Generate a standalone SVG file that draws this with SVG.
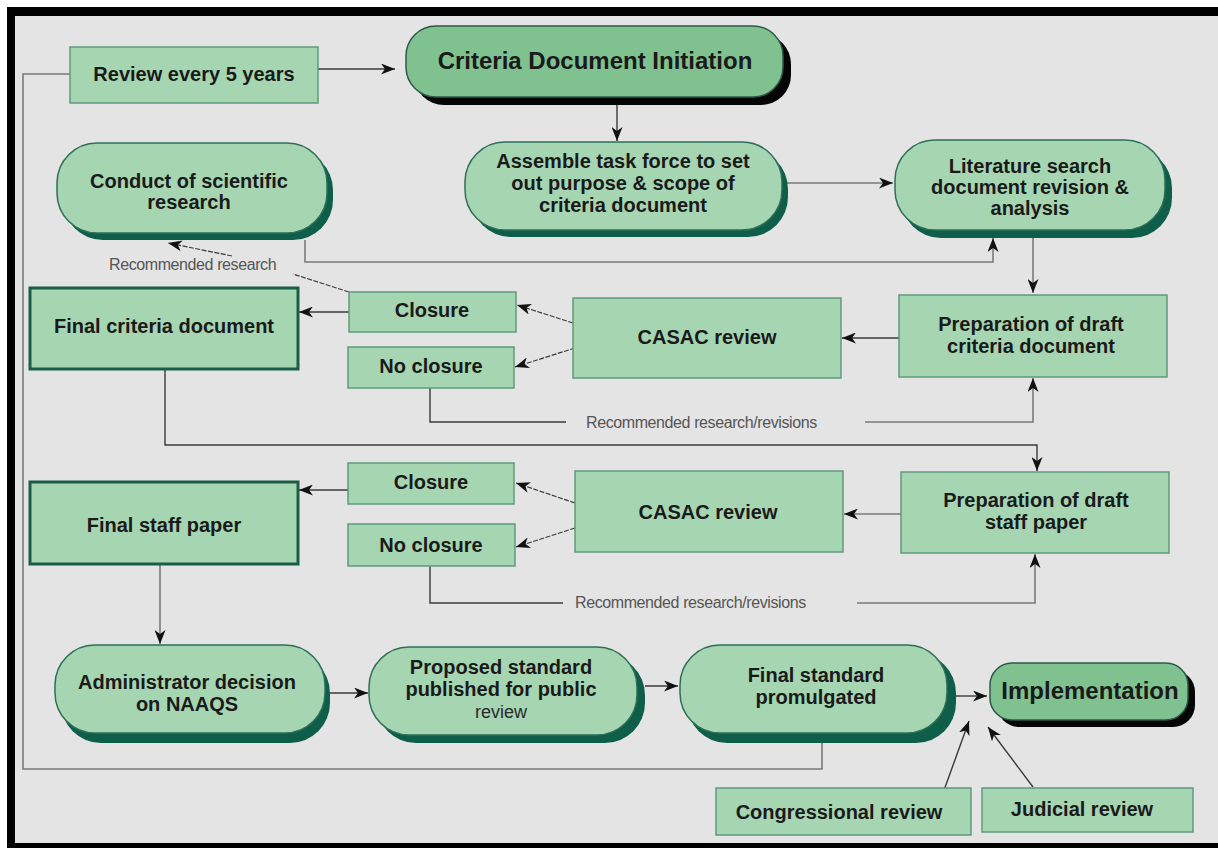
<svg xmlns="http://www.w3.org/2000/svg" width="1218" height="848" viewBox="0 0 1218 848">
<defs>
<marker id="ah" markerUnits="userSpaceOnUse" markerWidth="15" markerHeight="11" refX="14" refY="5.5" orient="auto">
<path d="M0,0 L14,5.5 L0,11 L4,5.5 Z" fill="#111"/>
</marker>
<style>
.t{font-family:"Liberation Sans",Arial,sans-serif;font-weight:bold;font-size:20px;fill:#1a1a1a;text-anchor:middle}
.big{font-size:24px}
.sm{font-family:"Liberation Sans",Arial,sans-serif;font-size:18px;fill:#2a2a2a;text-anchor:middle}
.lbl{font-family:"Liberation Sans",Arial,sans-serif;font-size:16px;fill:#555;letter-spacing:-0.4px}
.pill{fill:#a6d5b2;stroke:#2d6f58;stroke-width:1.5}
.pillsh{fill:#0e5e49}
.dpill{fill:#7fc18f;stroke:#2d5a48;stroke-width:1.5}
.dsh{fill:#050505}
.box{fill:#a6d5b2;stroke:#5f9a7c;stroke-width:1.5}
.fbox{fill:#a6d5b2;stroke:#1b5e48;stroke-width:3}
.ln{fill:none;stroke:#3a3a3a;stroke-width:1.4}
.lg{fill:none;stroke:#7a7a7a;stroke-width:1.6}
.dl{fill:none;stroke:#3a3a3a;stroke-width:1.2;stroke-dasharray:5 1.5}
</style>
</defs>
<rect width="1218" height="848" fill="#ffffff"/>
<rect x="7" y="7" width="1211" height="841" fill="#000"/>
<rect x="15" y="16" width="1203" height="827" fill="#e4e4e4"/>

<g id="connectors">
<path class="ln" d="M318,69 H395" marker-end="url(#ah)"/>
<path class="lg" d="M822,743 V769 H23 V74 H70"/>
<path class="ln" d="M617,104 V141" marker-end="url(#ah)"/>
<path class="lg" d="M787,183 H893" marker-end="url(#ah)"/>
<path class="lg" d="M305,240 V262 H993 V238" marker-end="url(#ah)"/>
<path class="lg" d="M1033,238 V293" marker-end="url(#ah)"/>
<path class="ln" d="M899,338 H842" marker-end="url(#ah)"/>
<path class="dl" d="M573,323 L517,305" marker-end="url(#ah)"/>
<path class="dl" d="M575,348 L515,367" marker-end="url(#ah)"/>
<path class="ln" d="M349,312 H299" marker-end="url(#ah)"/>
<path class="dl" d="M349,292 L293,274"/>
<path class="dl" d="M232,256 L168,243" marker-end="url(#ah)"/>
<path class="ln" d="M430,388 V422 H566"/>
<path class="lg" d="M865,422 H1033 V378" marker-end="url(#ah)"/>
<path class="ln" d="M165,369 V445 H1037 V471" marker-end="url(#ah)"/>
<path class="lg" d="M901,514 H844" marker-end="url(#ah)"/>
<path class="dl" d="M575,503 L516,483" marker-end="url(#ah)"/>
<path class="dl" d="M575,528 L516,547" marker-end="url(#ah)"/>
<path class="ln" d="M349,490 H299" marker-end="url(#ah)"/>
<path class="ln" d="M430,566 V603 H563"/>
<path class="lg" d="M857,603 H1035 V554" marker-end="url(#ah)"/>
<path class="lg" d="M160,564 V644" marker-end="url(#ah)"/>
<path class="ln" d="M330,693 H368" marker-end="url(#ah)"/>
<path class="ln" d="M645,686 H678" marker-end="url(#ah)"/>
<path class="ln" d="M956,696 H987" marker-end="url(#ah)"/>
<path class="ln" d="M943,793 L969,721" marker-end="url(#ah)"/>
<path class="ln" d="M1033,787 L988,727" marker-end="url(#ah)"/>
<text class="lbl" x="109" y="270">Recommended research</text>
<text class="lbl" x="586" y="428">Recommended research/revisions</text>
<text class="lbl" x="575" y="608">Recommended research/revisions</text>
</g>

<g id="review5">
<rect class="box" x="70" y="47" width="248" height="56"/>
<text class="t" x="194" y="81">Review every 5 years</text>
</g>
<g id="initiation">
<rect class="dsh" x="414" y="34" width="377" height="71" rx="30"/>
<rect class="dpill" x="406" y="26" width="377" height="71" rx="30"/>
<text class="t big" x="595" y="69">Criteria Document Initiation</text>
</g>
<g id="assemble">
<rect class="pillsh" x="471" y="149" width="317" height="88" rx="40"/>
<rect class="pill" x="465" y="142" width="317" height="88" rx="40"/>
<text class="t" x="623" y="168">Assemble task force to set</text>
<text class="t" x="623" y="190">out purpose &amp; scope of</text>
<text class="t" x="623" y="212">criteria document</text>
</g>
<g id="literature">
<rect class="pillsh" x="901" y="148" width="271" height="90" rx="40"/>
<rect class="pill" x="895" y="140" width="270" height="90" rx="40"/>
<text class="t" x="1030" y="173">Literature search</text>
<text class="t" x="1030" y="194">document revision &amp;</text>
<text class="t" x="1030" y="215">analysis</text>
</g>
<g id="conduct">
<rect class="pillsh" x="63" y="150" width="270" height="90" rx="40"/>
<rect class="pill" x="57" y="143" width="270" height="90" rx="40"/>
<text class="t" x="189" y="188">Conduct of scientific</text>
<text class="t" x="189" y="209">research</text>
</g>
<g id="prep-criteria">
<rect class="box" x="899" y="295" width="268" height="82"/>
<text class="t" x="1031" y="331">Preparation of draft</text>
<text class="t" x="1031" y="353">criteria document</text>
</g>
<g id="casac1">
<rect class="box" x="573" y="298" width="268" height="80"/>
<text class="t" x="707" y="344">CASAC review</text>
</g>
<g id="closure1">
<rect class="box" x="349" y="292" width="167" height="40"/>
<text class="t" x="432" y="317">Closure</text>
</g>
<g id="noclosure1">
<rect class="box" x="348" y="347" width="166" height="41"/>
<text class="t" x="431" y="373">No closure</text>
</g>
<g id="final-criteria">
<rect class="fbox" x="30" y="288" width="268" height="81"/>
<text class="t" x="164" y="333">Final criteria document</text>
</g>
<g id="prep-staff">
<rect class="box" x="901" y="472" width="268" height="81"/>
<text class="t" x="1036" y="507">Preparation of draft</text>
<text class="t" x="1036" y="529">staff paper</text>
</g>
<g id="casac2">
<rect class="box" x="575" y="471" width="268" height="81"/>
<text class="t" x="708" y="519">CASAC review</text>
</g>
<g id="closure2">
<rect class="box" x="348" y="463" width="166" height="41"/>
<text class="t" x="431" y="489">Closure</text>
</g>
<g id="noclosure2">
<rect class="box" x="348" y="524" width="167" height="42"/>
<text class="t" x="431" y="552">No closure</text>
</g>
<g id="final-staff">
<rect class="fbox" x="30" y="482" width="268" height="82"/>
<text class="t" x="164" y="532">Final staff paper</text>
</g>
<g id="administrator">
<rect class="pillsh" x="61" y="653" width="269" height="90" rx="40"/>
<rect class="pill" x="55" y="645" width="270" height="88" rx="40"/>
<text class="t" x="187" y="689">Administrator decision</text>
<text class="t" x="187" y="711">on NAAQS</text>
</g>
<g id="proposed">
<rect class="pillsh" x="376" y="655" width="269" height="88" rx="40"/>
<rect class="pill" x="369" y="647" width="268" height="88" rx="40"/>
<text class="t" x="501" y="674">Proposed standard</text>
<text class="t" x="501" y="696">published for public</text>
<text class="sm" x="501" y="718">review</text>
</g>
<g id="final-standard">
<rect class="pillsh" x="687" y="653" width="269" height="90" rx="40"/>
<rect class="pill" x="680" y="645" width="267" height="88" rx="40"/>
<text class="t" x="816" y="682">Final standard</text>
<text class="t" x="816" y="704">promulgated</text>
</g>
<g id="implementation">
<rect class="dsh" x="997" y="670" width="198" height="57" rx="22"/>
<rect class="dpill" x="990" y="663" width="198" height="57" rx="22"/>
<text class="t big" x="1090" y="699">Implementation</text>
</g>
<g id="congressional">
<rect class="box" x="716" y="788" width="255" height="47"/>
<text class="t" x="839" y="819">Congressional review</text>
</g>
<g id="judicial">
<rect class="box" x="982" y="788" width="211" height="44"/>
<text class="t" x="1082" y="816">Judicial review</text>
</g>
</svg>
